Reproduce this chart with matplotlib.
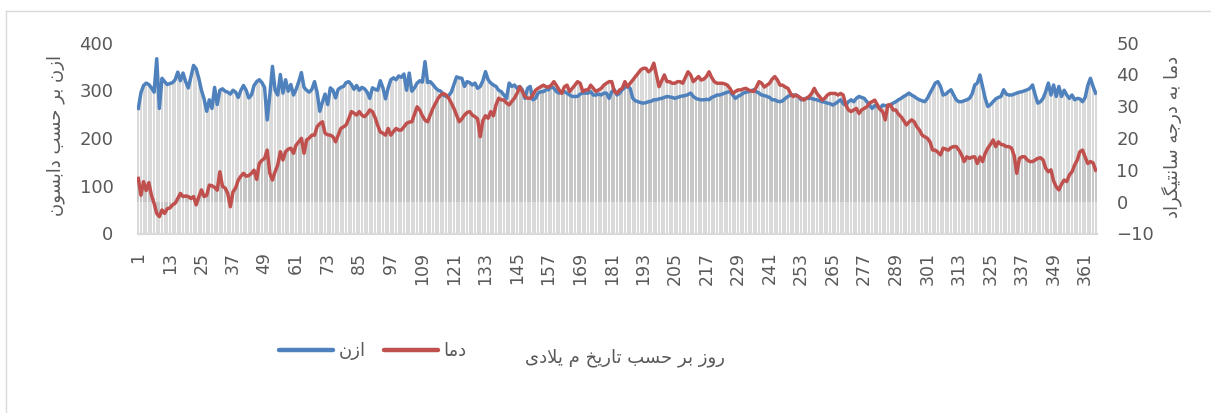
import matplotlib
matplotlib.use("Agg")
import matplotlib.pyplot as plt
from matplotlib.lines import Line2D
import numpy as np

# daily ozone (Dobson units)
ozone = [
    262, 295, 310, 315, 312, 305, 296, 366, 262, 325,
    318, 312, 314, 316, 322, 338, 320, 336, 318, 305,
    328, 352, 345, 325, 300, 282, 256, 280, 262, 306,
    270, 300, 303, 298, 296, 292, 300, 296, 285, 300,
    310, 300, 284, 290, 310, 318, 322, 316, 306, 238,
    290, 350, 300, 290, 333, 294, 322, 298, 312, 290,
    302, 318, 337, 306, 300, 296, 302, 318, 295, 256,
    275, 292, 270, 305, 300, 284, 302, 306, 308, 316,
    318, 312, 302, 310, 300, 306, 303, 296, 283, 305,
    302, 300, 320, 305, 282, 305, 322, 326, 322, 330,
    327, 334, 300, 336, 298, 305, 315, 320, 317, 360,
    316, 318, 312, 305, 300, 298, 290, 287, 289, 296,
    312, 328, 326, 325, 308, 318, 316, 311, 315, 304,
    308, 320, 339, 322, 315, 311, 308, 300, 297, 290,
    283, 315, 308, 311, 304, 308, 301, 283, 304, 308,
    280, 283, 294, 297, 297, 301, 301, 308, 304, 297,
    294, 297, 297, 294, 290, 287, 287, 287, 292, 294,
    294, 294, 297, 290, 290, 292, 290, 294, 294, 283,
    297, 301, 290, 294, 301, 306, 308, 304, 283, 278,
    276, 274, 273, 274, 276, 277, 280, 280, 282, 283,
    285, 287, 286, 285, 283, 285, 287, 288, 289, 291,
    294, 287, 283, 281, 280, 280, 281, 280, 285, 287,
    290, 290, 292, 294, 296, 297, 290, 283, 287, 290,
    294, 296, 297, 299, 301, 297, 294, 290, 289, 287,
    285, 280, 280, 277, 276, 278, 283, 287, 290, 290,
    290, 287, 280, 282, 283, 283, 283, 281, 280, 278,
    276, 275, 273, 272, 269, 272, 276, 280, 272, 269,
    276, 280, 276, 283, 287, 285, 283, 276, 269, 262,
    268, 266, 262, 269, 268, 266, 270, 273, 276, 280,
    283, 287, 290, 294, 290, 287, 283, 280, 278, 276,
    283, 294, 304, 315, 318, 308, 290, 292, 297, 301,
    290, 280, 276, 276, 278, 280, 283, 292, 311, 315,
    332, 308, 283, 266, 270, 276, 282, 285, 287, 301,
    292, 290, 290, 292, 294, 296, 297, 299, 301, 304,
    311, 290, 273, 276, 283, 297, 315, 290, 311, 287,
    308, 287, 300, 290, 283, 290, 280, 283, 282, 276,
    285, 310, 325, 308, 294,
]

# daily temperature (deg C)
temp = [
    7.3, 2.0, 6.3, 3.5, 6.0, 2.0, -0.5, -3.7, -4.7, -2.6,
    -3.7, -2.2, -2.0, -1.0, -0.5, 1.0, 2.6, 1.6, 1.8, 1.6,
    1.0, 1.6, -1.0, 1.5, 3.7, 1.6, 2.0, 5.2, 5.0, 4.5,
    3.6, 9.4, 4.8, 4.3, 2.6, -1.6, 3.1, 4.3, 6.8, 8.0,
    8.9, 8.0, 8.2, 8.9, 9.9, 7.0, 12.0, 13.0, 13.6, 16.2,
    8.9, 6.8, 9.4, 11.5, 15.7, 13.1, 15.7, 16.5, 16.8, 15.2,
    17.8, 18.8, 19.9, 15.2, 19.4, 20.0, 20.9, 20.9, 23.6, 24.5,
    25.1, 21.5, 21.0, 20.9, 20.4, 18.8, 20.9, 23.0, 23.5, 24.1,
    26.0, 28.3, 27.8, 27.2, 28.3, 27.2, 26.7, 27.5, 28.8, 28.3,
    26.5, 24.0, 21.9, 21.5, 20.9, 23.0, 20.9, 22.0, 23.0, 22.5,
    22.5, 23.5, 24.6, 25.0, 25.1, 27.5, 29.8, 28.8, 27.0, 25.6,
    25.1, 27.2, 29.3, 30.9, 32.5, 33.5, 34.0, 33.5, 32.5, 31.0,
    29.3, 27.2, 25.1, 26.0, 27.2, 28.0, 28.3, 27.2, 26.7, 26.0,
    20.4, 25.5, 27.0, 26.2, 28.3, 27.0, 30.4, 32.5, 32.0, 31.9,
    31.0, 30.4, 31.5, 32.5, 34.0, 36.1, 34.6, 33.0, 32.5, 32.5,
    33.5, 35.0, 35.6, 36.1, 36.6, 36.1, 36.0, 36.6, 37.7, 36.5,
    35.1, 34.0, 36.1, 36.6, 34.6, 35.6, 36.6, 37.7, 37.2, 34.6,
    35.1, 35.1, 36.6, 35.6, 34.6, 35.1, 35.6, 36.6, 37.2, 37.7,
    37.7, 34.6, 34.0, 35.1, 35.6, 37.7, 36.1, 37.2, 38.2, 39.3,
    40.3, 41.4, 41.9, 41.9, 40.8, 41.5, 43.5, 39.8, 36.1, 38.0,
    39.8, 37.7, 37.7, 37.2, 37.2, 37.7, 37.7, 37.2, 39.0, 40.8,
    39.8, 37.7, 38.5, 39.3, 38.2, 38.5, 39.3, 40.8, 39.0, 37.7,
    37.2, 37.2, 37.2, 37.0, 36.6, 35.5, 34.0, 34.6, 35.1, 35.1,
    35.4, 35.6, 35.1, 34.8, 34.6, 36.0, 37.7, 37.2, 36.0, 36.6,
    37.2, 38.5, 39.3, 38.2, 36.6, 36.6, 36.0, 35.6, 34.0, 33.0,
    33.5, 33.0, 32.5, 31.9, 32.5, 33.0, 34.0, 35.6, 34.0, 33.0,
    31.9, 32.5, 33.5, 34.0, 34.0, 34.0, 33.5, 34.0, 33.5, 30.4,
    28.8, 28.3, 28.8, 29.3, 27.7, 28.8, 29.3, 29.8, 31.0, 31.4,
    31.9, 30.4, 29.0, 28.3, 25.7, 30.4, 30.4, 28.8, 28.8, 27.5,
    26.7, 25.5, 24.1, 25.0, 25.7, 25.1, 23.5, 22.5, 20.9, 20.4,
    19.9, 18.8, 16.2, 16.2, 15.5, 14.7, 16.8, 16.5, 16.2, 17.0,
    17.3, 17.3, 16.2, 14.7, 12.6, 14.1, 13.6, 14.0, 14.1, 12.0,
    14.1, 12.6, 15.2, 16.8, 18.0, 19.4, 17.3, 18.8, 18.0, 17.8,
    17.3, 17.3, 16.8, 14.5, 8.9, 13.6, 14.1, 14.1, 13.1, 12.6,
    12.6, 13.1, 13.6, 13.8, 13.1, 10.5, 9.4, 10.0, 6.5, 4.7,
    3.7, 5.5, 6.8, 6.3, 8.4, 9.4, 11.5, 13.1, 15.7, 16.2,
    14.0, 12.0, 12.6, 12.2, 9.9,
]

days = np.arange(1, len(ozone) + 1)
xtick_days = list(range(1, 366, 12))
ozone_ticks = [0, 100, 200, 300, 400]
temp_ticks = [-10, 0, 10, 20, 30, 40, 50]

ozone_name = "ازن"
temp_name = "دما"
ozone_axis_title = "ازن بر حسب دابسون"
temp_axis_title = "دما به درجه سانتیگراد"
day_axis_title = "روز بر حسب تاریخ م یلادی"

assert len(ozone) == 365 and len(temp) == 365

# matplotlib has no arabic shaping, so pick the presentation forms by hand
FORMS = {
    "ا": ("\uFE8D", "\uFE8E", None, None),
    "ب": ("\uFE8F", "\uFE90", "\uFE91", "\uFE92"),
    "ت": ("\uFE95", "\uFE96", "\uFE97", "\uFE98"),
    "ج": ("\uFE9D", "\uFE9E", "\uFE9F", "\uFEA0"),
    "ح": ("\uFEA1", "\uFEA2", "\uFEA3", "\uFEA4"),
    "خ": ("\uFEA5", "\uFEA6", "\uFEA7", "\uFEA8"),
    "د": ("\uFEA9", "\uFEAA", None, None),
    "ر": ("\uFEAD", "\uFEAE", None, None),
    "ز": ("\uFEAF", "\uFEB0", None, None),
    "س": ("\uFEB1", "\uFEB2", "\uFEB3", "\uFEB4"),
    "ل": ("\uFEDD", "\uFEDE", "\uFEDF", "\uFEE0"),
    "م": ("\uFEE1", "\uFEE2", "\uFEE3", "\uFEE4"),
    "ن": ("\uFEE5", "\uFEE6", "\uFEE7", "\uFEE8"),
    "ه": ("\uFEE9", "\uFEEA", "\uFEEB", "\uFEEC"),
    "و": ("\uFEED", "\uFEEE", None, None),
    "ی": ("\uFBFC", "\uFBFD", "\uFBFE", "\uFBFF"),
    "گ": ("\uFB92", "\uFB93", "\uFB94", "\uFB95"),
}


def shape(text):
    out = []
    i = 0
    n = len(text)
    while i < n:
        c = text[i]
        if c not in FORMS:
            out.append(c)
            i += 1
            continue
        prev = text[i - 1] if i > 0 else ""
        joins_prev = prev in FORMS and FORMS[prev][2] is not None
        if c == "ل" and i + 1 < n and text[i + 1] == "ا":
            out.append("\uFEFC" if joins_prev else "\uFEFB")
            i += 2
            continue
        nxt = text[i + 1] if i + 1 < n else ""
        joins_next = FORMS[c][2] is not None and nxt in FORMS
        isol, fina, init, medi = FORMS[c]
        if joins_prev and joins_next:
            g = medi
        elif joins_prev:
            g = fina
        elif joins_next:
            g = init
        else:
            g = isol
        out.append(g)
        i += 1
    return "".join(reversed(out))


plt.rcParams["font.family"] = ["DejaVu Sans"]
TXT = "#595959"
BLUE = "#4F81BD"
RED = "#C0504D"

W, H = 1211, 413
fig = plt.figure(figsize=(W / 100, H / 100), dpi=100)
ax = fig.add_axes([137 / W, 1 - 233.5 / H, 960 / W, 191 / H])
ax2 = ax.twinx()

ax.set_xlim(0.5, 365.5)
ax.set_ylim(0, 400)
ax2.set_ylim(-10, 50)

# drop lines of both series
ax.vlines(days, 0, ozone, color="#b4b4b4", alpha=0.5, lw=1.4, zorder=1)
ax.vlines(days, 0, temp, color="#b4b4b4", alpha=0.5, lw=1.4, zorder=1,
          transform=ax2.transData)

ax.plot(days, ozone, color=BLUE, lw=2.5, zorder=3, solid_joinstyle="round")
ax2.plot(days, temp, color=RED, lw=2.5, zorder=3, solid_joinstyle="round")

ax.set_xticks(xtick_days)
ax.set_xticklabels([str(d) for d in xtick_days], rotation=90)
ax.set_yticks(ozone_ticks)
ax2.set_yticks(temp_ticks)

ax.tick_params(axis="x", length=0, pad=13, labelsize=12.5, colors=TXT)
ax.tick_params(axis="y", length=0, pad=17, labelsize=13, colors=TXT)
ax2.tick_params(axis="y", length=0, pad=14, labelsize=13, colors=TXT)
for a in (ax, ax2):
    for s in ("top", "left", "right"):
        a.spines[s].set_visible(False)
    a.spines["bottom"].set_color("#d9d9d9")

fig.text(56 / W, 1 - 136 / H, shape(ozone_axis_title), rotation=90,
         ha="center", va="center", fontsize=13, color=TXT)
fig.text(1172 / W, 1 - 137 / H, shape(temp_axis_title), rotation=90,
         ha="center", va="center", fontsize=13, color=TXT)
fig.text(625 / W, 1 - 358 / H, shape(day_axis_title),
         ha="center", va="center", fontsize=13, color=TXT)

handles = [Line2D([], [], color=BLUE, lw=3.2, solid_capstyle="round"),
           Line2D([], [], color=RED, lw=3.2, solid_capstyle="round")]
fig.legend(handles, [shape(ozone_name), shape(temp_name)], loc="center",
           bbox_to_anchor=(373 / W, 1 - 351 / H), ncol=2, frameon=False,
           fontsize=13, labelcolor=TXT, handlelength=3.0, handletextpad=0.3,
           columnspacing=1.0)

# chart area border (only the top/left edges are inside the picture)
fig.add_artist(Line2D([6 / W, 6 / W], [0, 1 - 11 / H], color="#d9d9d9", lw=1))
fig.add_artist(Line2D([6 / W, 1], [1 - 11 / H, 1 - 11 / H], color="#d9d9d9", lw=1))

fig.savefig("out.png", dpi=100)
